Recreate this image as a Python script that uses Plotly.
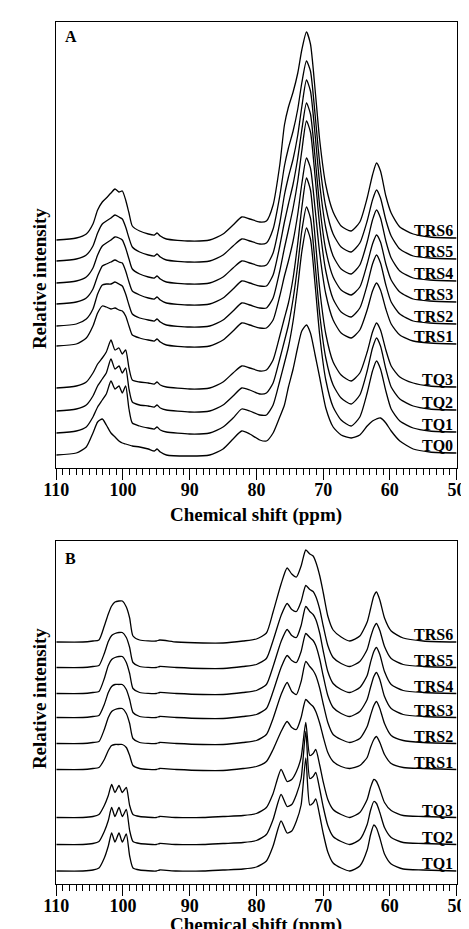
import plotly.graph_objects as go

# ---------------- Panel A data (ppm grid and heights above each trace's baseline) ----------------
PPM_A = [110, 107, 105.5, 104.5, 103.8, 103.1, 102.5, 101.8, 101.2, 100.6, 100.1, 99.6, 99.1, 98.6,
         97.5, 96.2, 95.3, 94.9, 94.4, 93.5, 90, 87, 85, 83.5, 82.2, 81, 79.5, 78.5, 77.5, 76.5,
         75.8, 75.2, 74.5, 73.8, 73.2, 72.5, 71.9, 71.2, 70.5, 69.6, 68.5, 67.3, 65.8, 64.5, 63.4,
         62.6, 62.0, 61.4, 60.6, 59.8, 58.5, 56.5, 54, 50]

NAMES_A = ["TQ0", "TQ1", "TQ2", "TQ3", "TRS1", "TRS2", "TRS3", "TRS4", "TRS5", "TRS6"]
OFFSET_A = [13, 35, 57, 80, 122, 142, 164, 185, 207, 228]

TQ0_A = [0, 2, 8, 22, 33, 36, 30, 22, 18, 14, 12, 11, 10, 9, 8, 6, 4, 6, 3, 0, -1, 0, 6, 16, 24, 21, 15, 14,
         22, 38, 50, 68, 86, 108, 124, 130, 122, 100, 77, 47, 28, 20, 17, 20, 29, 34, 36, 37, 32, 24, 14, 6, 3, 2]
TQ1_A = [0, 2, 6, 16, 26, 33, 39, 52, 44, 47, 40, 47, 24, 10, 7, 5, 4, 6, 3, 1, -1, 0, 6, 15, 24, 22, 18, 18,
         28, 52, 70, 86, 112, 147, 181, 205, 194, 148, 97, 53, 26, 13, 7, 16, 40, 62, 72, 64, 42, 24, 12, 5, 2, 1]
TQ2_A = [0, 2, 6, 15, 25, 32, 38, 52, 42, 45, 38, 43, 22, 9, 6, 5, 4, 6, 3, 1, -1, 0, 6, 15, 23, 21, 17, 18,
         28, 52, 70, 86, 112, 146, 180, 204, 193, 147, 96, 53, 26, 13, 7, 16, 40, 63, 73, 65, 42, 24, 12, 5, 2, 1]
TQ3_A = [0, 2, 6, 15, 24, 30, 36, 48, 38, 40, 34, 38, 20, 8, 6, 5, 4, 6, 3, 1, -1, 0, 6, 15, 22, 20, 17, 18,
         28, 52, 70, 85, 110, 145, 180, 210, 198, 150, 98, 54, 26, 13, 7, 15, 36, 56, 65, 58, 38, 22, 11, 5, 2, 1]
TRS1_A = [0, 2, 8, 20, 33, 40, 39, 37, 38, 36, 35, 30, 20, 11, 8, 6, 5, 7, 4, 1, -1, 0, 6, 15, 23, 21, 18, 18,
          26, 50, 70, 85, 105, 132, 162, 188, 178, 137, 92, 52, 26, 13, 8, 16, 36, 55, 63, 56, 37, 22, 11, 5, 3, 2]
TRS2_A = [0, 2, 7, 17, 32, 41, 42, 42, 44, 42, 40, 32, 21, 12, 8, 6, 5, 7, 4, 1, -1, 0, 6, 15, 23, 21, 18, 18,
          28, 55, 78, 96, 118, 145, 175, 205, 194, 149, 99, 55, 27, 14, 9, 18, 41, 62, 71, 63, 41, 24, 12, 5, 3, 2]
TRS3_A = [0, 2, 6, 15, 28, 38, 40, 42, 44, 42, 41, 33, 22, 13, 9, 6, 5, 7, 4, 1, -1, 0, 6, 15, 23, 21, 18, 18,
          29, 58, 82, 100, 120, 146, 174, 201, 190, 146, 97, 54, 27, 14, 9, 17, 40, 60, 69, 62, 40, 24, 12, 5, 3, 2]
TRS4_A = [0, 2, 6, 15, 28, 37, 40, 43, 46, 45, 43, 35, 24, 14, 9, 6, 5, 7, 4, 1, -1, 0, 6, 15, 22, 20, 17, 18,
          30, 60, 88, 106, 124, 148, 176, 203, 192, 148, 98, 55, 27, 14, 9, 18, 41, 63, 73, 65, 42, 25, 12, 5, 3, 2]
TRS5_A = [0, 2, 6, 15, 28, 37, 40, 43, 46, 44, 42, 34, 23, 14, 9, 6, 5, 7, 4, 1, -1, 0, 6, 15, 22, 20, 17, 18,
          32, 65, 95, 113, 130, 152, 178, 200, 190, 146, 97, 54, 27, 14, 9, 18, 40, 61, 71, 63, 41, 25, 12, 5, 3, 2]
TRS6_A = [0, 2, 6, 16, 30, 38, 42, 47, 51, 48, 49, 40, 27, 14, 9, 6, 5, 7, 4, 1, -1, 0, 6, 15, 23, 21, 18, 19,
          35, 75, 115, 133, 148, 167, 190, 208, 196, 150, 99, 55, 28, 14, 9, 18, 42, 65, 77, 69, 44, 27, 13, 6, 3, 2]
SERIES_A = [TQ0_A, TQ1_A, TQ2_A, TQ3_A, TRS1_A, TRS2_A, TRS3_A, TRS4_A, TRS5_A, TRS6_A]

# ---------------- Panel B data ----------------
PPM_B = [110, 106, 104.5, 103.6, 102.8, 102.2, 101.7, 101.2, 100.6, 100.1, 99.5, 99.0, 98.5, 97.5, 95,
         94.5, 92, 88, 85, 82, 80, 78.5, 77.5, 76.3, 75.4, 74.7, 74.0, 73.3, 72.6, 72.0, 71.5, 71.1,
         70.5, 70.0, 69.3, 68.5, 67.3, 66.0, 64.5, 63.4, 62.9, 62.4, 62.0, 61.5, 60.8, 59.8, 58.0, 55, 50]

NAMES_B = ["TQ1", "TQ2", "TQ3", "TRS1", "TRS2", "TRS3", "TRS4", "TRS5", "TRS6"]
OFFSET_B = [13, 39.5, 66.5, 114.5, 140.5, 166.5, 190.5, 216.5, 242]

TQ1_B = [0, 0, 1, 3, 13, 25, 38, 29, 38, 29, 37, 15, 3, 1, 0, 1, 0, 0, 1, 2, 4, 10, 25, 50, 38, 40, 50, 66,
         113, 66, 68, 72, 55, 38, 19, 8, 3, 0, 5, 21, 36, 46, 43, 33, 17, 7, 2, 1, 0]
TQ2_B = [0, 0, 1, 3, 13, 24, 37, 28, 37, 28, 35, 14, 3, 1, 0, 1, 0, 0, 1, 2, 4, 10, 25, 50, 38, 40, 50, 66,
         113, 66, 68, 72, 55, 38, 19, 8, 3, 0, 5, 20, 34, 43, 41, 32, 17, 7, 2, 1, 0]
TQ3_B = [0, 0, 1, 3, 12, 22, 33, 25, 32, 25, 30, 12, 3, 1, 0, 1, 0, 0, 1, 2, 4, 10, 24, 48, 36, 38, 46, 60,
         95, 62, 64, 68, 52, 36, 18, 8, 3, 0, 5, 18, 30, 38, 36, 28, 15, 7, 2, 1, 0]
TRS1_B = [0, 0, 1, 2, 10, 19, 24, 25, 25, 25, 22, 14, 4, 1, 0, 1, 0, -1, -1, 1, 3, 8, 20, 38, 48, 42, 40, 52,
          70, 66, 63, 58, 46, 33, 17, 8, 3, 1, 4, 12, 22, 30, 33, 27, 15, 6, 2, 1, 0]
TRS2_B = [0, 0, 1, 2, 14, 26, 32, 34, 35, 35, 30, 20, 5, 1, 0, 1, 0, -1, -1, 1, 3, 9, 25, 49, 61, 52, 49, 62,
          82, 77, 73, 68, 55, 40, 21, 9, 4, 1, 5, 17, 28, 38, 42, 35, 20, 8, 3, 1, 0]
TRS3_B = [0, 0, 1, 2, 13, 25, 31, 33, 33, 33, 28, 18, 5, 1, 0, 1, 0, -1, -1, 1, 3, 9, 26, 50, 62, 57, 55, 66,
          84, 80, 77, 72, 58, 42, 22, 10, 4, 1, 6, 18, 30, 41, 45, 38, 21, 9, 3, 1, 0]
TRS4_B = [0, 0, 1, 2, 15, 28, 34, 36, 37, 37, 31, 20, 5, 1, 0, 1, 0, -1, -1, 1, 3, 9, 27, 52, 64, 58, 56, 68,
          87, 82, 79, 74, 60, 43, 22, 10, 4, 1, 6, 18, 31, 42, 46, 39, 22, 9, 3, 1, 0]
TRS5_B = [0, 0, 1, 2, 14, 26, 32, 34, 35, 35, 30, 20, 5, 1, 0, 1, 0, -1, -1, 1, 3, 9, 27, 52, 64, 58, 56, 66,
          82, 78, 76, 71, 58, 42, 22, 10, 4, 1, 6, 18, 30, 40, 44, 37, 21, 9, 3, 1, 0]
TRS6_B = [0, 0, 1, 2, 16, 28, 36, 40, 41, 41, 35, 24, 6, 2, 1, 2, 0, -1, -1, 1, 3, 9, 30, 58, 74, 68, 65, 76,
          92, 88, 86, 80, 66, 50, 26, 12, 5, 1, 6, 20, 33, 46, 50, 42, 24, 11, 4, 1, 0]
SERIES_B = [TQ1_B, TQ2_B, TQ3_B, TRS1_B, TRS2_B, TRS3_B, TRS4_B, TRS5_B, TRS6_B]

X_TICKS = [110, 100, 90, 80, 70, 60, 50]

for s in SERIES_A:
    assert len(s) == len(PPM_A)
for s in SERIES_B:
    assert len(s) == len(PPM_B)

W, H = 469, 929
FONT = "Liberation Serif"

fig = go.Figure()


def add_panel(ppm, series, offsets, names, xa, ya):
    for vals, off, name in zip(series, offsets, names):
        fig.add_trace(go.Scatter(
            x=ppm, y=[off + v for v in vals], mode="lines", name=name,
            line=dict(color="black", width=1.3, shape="spline", smoothing=0.6),
            xaxis=xa, yaxis=ya, showlegend=False, hoverinfo="skip"))
        fig.add_annotation(
            x=ppm[-1], y=off + vals[-1] + 7.5, xref=xa, yref=ya,
            text=name, showarrow=False, xanchor="right", yanchor="middle", xshift=-2,
            font=dict(family=FONT, size=16, color="black", weight="bold"))


add_panel(PPM_A, SERIES_A, OFFSET_A, NAMES_A, "x", "y")
add_panel(PPM_B, SERIES_B, OFFSET_B, NAMES_B, "x2", "y2")

xdom = [37 / W, 457 / W]
xax = dict(domain=xdom, range=[110, 50], tickvals=X_TICKS, ticks="outside", ticklen=11,
           tickwidth=1.3, tickcolor="black", showline=True, linewidth=1.3, linecolor="black",
           mirror=True, showgrid=False, zeroline=False, ticklabelstandoff=-6,
           minor=dict(dtick=1, ticks="outside", ticklen=6, tickwidth=1, tickcolor="black", showgrid=False),
           tickfont=dict(family=FONT, size=18, color="black", weight="bold"))
yax = dict(showticklabels=False, ticks="", showline=True, linewidth=1.3, linecolor="black",
           mirror=True, showgrid=False, zeroline=False)

fig.update_layout(
    width=W, height=H, margin=dict(l=0, r=0, t=0, b=0),
    paper_bgcolor="white", plot_bgcolor="white", showlegend=False,
    xaxis=dict(xax, anchor="y"),
    yaxis=dict(yax, domain=[(H - 460) / H, (H - 14) / H], range=[0, 446], anchor="x"),
    xaxis2=dict(xax, anchor="y2"),
    yaxis2=dict(yax, domain=[(H - 876) / H, (H - 533) / H], range=[0, 343], anchor="x2"),
)

tfont = dict(family=FONT, size=19, color="black", weight="bold")
for yc in [507, 917]:
    fig.add_annotation(x=247 / W, y=1 - yc / H, xref="paper", yref="paper",
                       text="Chemical shift (ppm)", showarrow=False,
                       xanchor="center", yanchor="middle", font=tfont)
for yc in [271, 691]:
    fig.add_annotation(x=19 / W, y=1 - yc / H, xref="paper", yref="paper",
                       text="Relative intensity", showarrow=False, textangle=-90,
                       xanchor="center", yanchor="middle", font=tfont)
for letter, yc in [("A", 29), ("B", 550)]:
    fig.add_annotation(x=44 / W, y=1 - yc / H, xref="paper", yref="paper",
                       text=letter, showarrow=False, xanchor="left", yanchor="middle",
                       font=dict(family=FONT, size=16, color="black", weight="bold"))

fig.write_html("out.html")
